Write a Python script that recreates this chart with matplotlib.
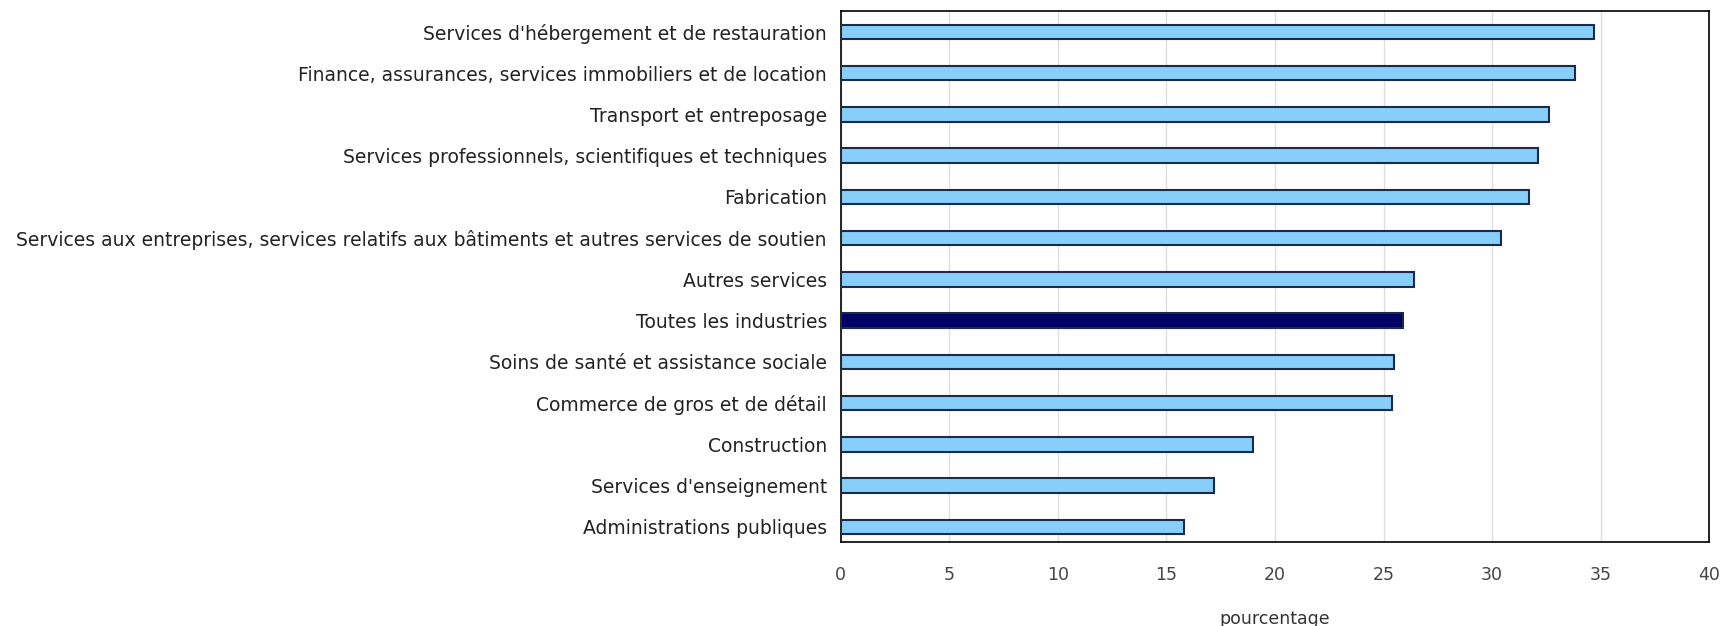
import matplotlib
matplotlib.use("Agg")
import matplotlib.pyplot as plt

categories = [
    "Services d'hébergement et de restauration",
    "Finance, assurances, services immobiliers et de location",
    "Transport et entreposage",
    "Services professionnels, scientifiques et techniques",
    "Fabrication",
    "Services aux entreprises, services relatifs aux bâtiments et autres services de soutien",
    "Autres services",
    "Toutes les industries",
    "Soins de santé et assistance sociale",
    "Commerce de gros et de détail",
    "Construction",
    "Services d'enseignement",
    "Administrations publiques",
]
values = [34.7, 33.8, 32.6, 32.1, 31.7, 30.4, 26.4, 25.9, 25.5, 25.4, 19.0, 17.2, 15.8]
highlight = "Toutes les industries"
xticks = [0, 5, 10, 15, 20, 25, 30, 35, 40]
xlabel = "pourcentage"

fig = plt.figure(figsize=(17.23, 6.26), dpi=100)
ax = fig.add_axes([0.488, 0.134, 0.504, 0.848])

n = len(categories)
ypos = list(range(n - 1, -1, -1))
colors = ["#000066" if c == highlight else "#87CEFA" for c in categories]
ax.barh(ypos, values, height=0.35, color=colors, edgecolor="#1a2a4a", linewidth=1.5, zorder=3)

ax.set_xlim(0, 40)
ax.set_ylim(-0.37, n - 0.5)
ax.set_xticks(xticks)
ax.set_xticklabels([str(t) for t in xticks])
ax.set_yticks(ypos)
ax.set_yticklabels(categories)
ax.tick_params(axis="y", length=0, labelsize=13.5, labelcolor="#222222", pad=10)
ax.tick_params(axis="x", length=0, labelsize=12.5, labelcolor="#444444", pad=17)
ax.xaxis.grid(True, color="#dedede", linewidth=1, zorder=0)
for s in ax.spines.values():
    s.set_color("black")
    s.set_linewidth(1.2)
ax.set_xlabel(xlabel, fontsize=12.5, color="#333333", labelpad=19)

fig.savefig("out.png", dpi=100, facecolor="white")
